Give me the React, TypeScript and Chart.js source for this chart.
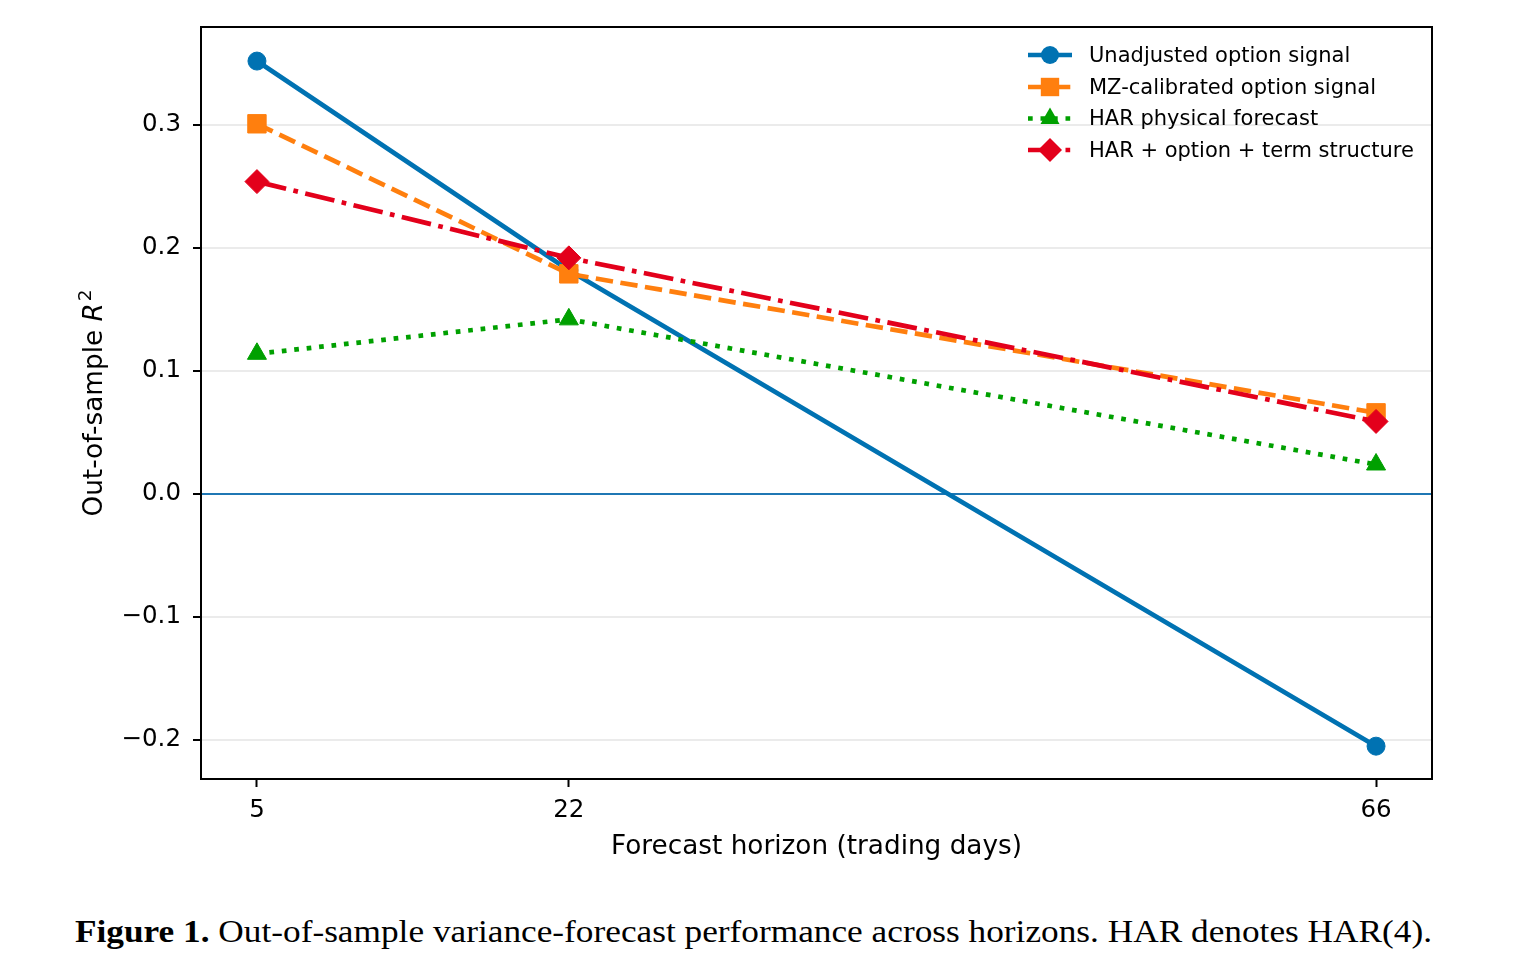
import React, { useRef, useEffect } from "react";
import { Chart, registerables } from "chart.js";

Chart.register(...registerables);

// horizons (trading days) and out-of-sample R^2 per series
const HORIZONS = [5, 22, 66];
const UNADJUSTED = [0.352, 0.182, -0.205];
const MZ_CALIBRATED = [0.301, 0.179, 0.066];
const HAR_PHYSICAL = [0.114, 0.142, 0.024];
const HAR_OPTION_TERM = [0.254, 0.192, 0.059];

const SERIES_LABELS = [
  "Unadjusted option signal",
  "MZ-calibrated option signal",
  "HAR physical forecast",
  "HAR + option + term structure",
];

const X_TICKS = [5, 22, 66];
const Y_TICKS = [-0.2, -0.1, 0.0, 0.1, 0.2, 0.3];

const FONT = "'DejaVu Sans', sans-serif";
const LW = 4.7;

const STYLES = [
  { color: "#0072B2", dash: [] as number[], point: "circle", radius: 9 },
  { color: "#FF7F0E", dash: [17.4, 7.5], point: "rect", radius: 13 },
  { color: "#00A000", dash: [4.7, 7.8], point: "triangle", radius: 11 },
  { color: "#E3001B", dash: [30, 7.5, 4.7, 7.5], point: "rectRot", radius: 12 },
];

const W = 1534;
const H = 880;

function marker(ctx: CanvasRenderingContext2D, kind: string, x: number, y: number, r: number) {
  ctx.beginPath();
  if (kind === "circle") {
    ctx.arc(x, y, r, 0, Math.PI * 2);
  } else if (kind === "rect") {
    const s = Math.SQRT1_2 * r;
    ctx.rect(x - s, y - s, 2 * s, 2 * s);
  } else if (kind === "triangle") {
    const edge = (3 * r) / Math.sqrt(3);
    const h = (edge * Math.sqrt(3)) / 2;
    ctx.moveTo(x - edge / 2, y + h / 3);
    ctx.lineTo(x + edge / 2, y + h / 3);
    ctx.lineTo(x, y - (2 * h) / 3);
    ctx.closePath();
  } else {
    ctx.moveTo(x, y - r);
    ctx.lineTo(x + r, y);
    ctx.lineTo(x, y + r);
    ctx.lineTo(x - r, y);
    ctx.closePath();
  }
  ctx.fill();
}

const decorPlugin = {
  id: "decor",
  beforeDatasetsDraw(chart: any) {
    const { ctx, chartArea } = chart;
    const y0 = chart.scales.y.getPixelForValue(0);
    ctx.save();
    ctx.strokeStyle = "#1f77b4";
    ctx.lineWidth = 2;
    ctx.beginPath();
    ctx.moveTo(chartArea.left, y0);
    ctx.lineTo(chartArea.right, y0);
    ctx.stroke();
    ctx.restore();
  },
  afterDraw(chart: any) {
    const { ctx, chartArea } = chart;
    ctx.save();
    // frame
    ctx.strokeStyle = "#000";
    ctx.lineWidth = 2;
    ctx.strokeRect(chartArea.left, chartArea.top, chartArea.right - chartArea.left, chartArea.bottom - chartArea.top);

    // x title
    ctx.fillStyle = "#000";
    ctx.font = `26.3px ${FONT}`;
    ctx.textAlign = "center";
    ctx.textBaseline = "middle";
    ctx.fillText("Forecast horizon (trading days)", (chartArea.left + chartArea.right) / 2, 847);

    // y title with italic R and superscript 2
    const cy = (chartArea.top + chartArea.bottom) / 2;
    ctx.translate(92, cy);
    ctx.rotate(-Math.PI / 2);
    ctx.textAlign = "left";
    ctx.textBaseline = "alphabetic";
    const a = "Out-of-sample ";
    ctx.font = `26.3px ${FONT}`;
    const wa = ctx.measureText(a).width;
    ctx.font = `italic 26.3px ${FONT}`;
    const wr = ctx.measureText("R").width;
    ctx.font = `18.5px ${FONT}`;
    const ws = ctx.measureText("2").width;
    const total = wa + wr + ws + 2;
    let x = -total / 2;
    const base = 10;
    ctx.font = `26.3px ${FONT}`;
    ctx.fillText(a, x, base);
    x += wa;
    ctx.font = `italic 26.3px ${FONT}`;
    ctx.fillText("R", x, base);
    x += wr + 2;
    ctx.font = `18.5px ${FONT}`;
    ctx.fillText("2", x, base - 11);
    ctx.setTransform(1, 0, 0, 1, 0, 0);
    ctx.restore();

    // legend
    ctx.save();
    const rows = [55, 87, 118.5, 150];
    SERIES_LABELS.forEach((label, i) => {
      const st = STYLES[i];
      const y = rows[i];
      ctx.strokeStyle = st.color;
      ctx.fillStyle = st.color;
      ctx.lineWidth = LW;
      ctx.lineCap = "butt";
      ctx.setLineDash(st.dash);
      ctx.beginPath();
      ctx.moveTo(1028, y);
      ctx.lineTo(1072, y);
      ctx.stroke();
      ctx.setLineDash([]);
      marker(ctx, st.point, 1050, y, st.radius);
      ctx.fillStyle = "#000";
      ctx.font = `21px ${FONT}`;
      ctx.textAlign = "left";
      ctx.textBaseline = "middle";
      ctx.fillText(label, 1089, y + 1.5);
    });
    ctx.restore();
  },
};

const App: React.FC = () => {
  const chartRef = useRef<HTMLCanvasElement | null>(null);

  useEffect(() => {
    if (!chartRef.current) return;
    const ctx = chartRef.current.getContext("2d");
    if (!ctx) return;

    const seriesValues = [UNADJUSTED, MZ_CALIBRATED, HAR_PHYSICAL, HAR_OPTION_TERM];

    const chart = new Chart(ctx, {
      type: "line",
      data: {
        datasets: seriesValues.map((vals, i) => ({
          label: SERIES_LABELS[i],
          data: HORIZONS.map((h, j) => ({ x: h, y: vals[j] })),
          borderColor: STYLES[i].color,
          backgroundColor: STYLES[i].color,
          borderWidth: LW,
          borderDash: STYLES[i].dash,
          borderCapStyle: "butt" as const,
          pointStyle: STYLES[i].point as any,
          pointRadius: STYLES[i].radius,
          pointBackgroundColor: STYLES[i].color,
          pointBorderColor: STYLES[i].color,
          pointBorderWidth: 1,
          tension: 0,
          order: 4 - i,
        })),
      },
      options: {
        responsive: false,
        animation: false,
        devicePixelRatio: 1,
        layout: { padding: { left: 0, top: 27, right: 102, bottom: 0 } },
        plugins: {
          legend: { display: false },
          tooltip: { enabled: false },
        },
        scales: {
          x: {
            type: "linear",
            min: 1.95,
            max: 69.05,
            afterBuildTicks: (scale: any) => {
              scale.ticks = X_TICKS.map((v) => ({ value: v }));
            },
            afterFit: (scale: any) => {
              scale.height = H - 779;
            },
            ticks: {
              color: "#000",
              font: { size: 24.5, family: FONT },
              padding: 9,
              maxRotation: 0,
              callback: (v: any) => String(v),
            },
            grid: {
              drawOnChartArea: false,
              drawTicks: true,
              tickLength: 8,
              tickColor: "#000",
              tickWidth: 2,
            },
            border: { display: true, color: "#000", width: 2 },
          },
          y: {
            type: "linear",
            min: -0.2317,
            max: 0.3797,
            afterBuildTicks: (scale: any) => {
              scale.ticks = Y_TICKS.map((v) => ({ value: v }));
            },
            afterFit: (scale: any) => {
              scale.width = 201;
            },
            ticks: {
              color: "#000",
              font: { size: 24.5, family: FONT },
              padding: 12,
              callback: (v: any) => Number(v).toFixed(1).replace("-", "\u2212"),
            },
            grid: {
              color: "#ebebeb",
              lineWidth: 2,
              drawTicks: true,
              tickLength: 8,
              tickColor: "#000",
              tickWidth: 2,
            },
            border: { display: true, color: "#000", width: 2 },
          },
        },
      },
      plugins: [decorPlugin],
    });

    return () => {
      chart.destroy();
    };
  }, []);

  return (
    <div style={{ position: "absolute", left: 0, top: 0, width: W, height: 976, background: "#fff" }}>
      <canvas
        ref={chartRef}
        width={W}
        height={H}
        style={{ position: "absolute", left: 0, top: 0, width: W, height: H }}
      />
      <div
        style={{
          position: "absolute",
          left: 0,
          top: 916.3,
          width: 1507,
          textAlign: "center",
          fontFamily: "'Liberation Serif', 'Times New Roman', serif",
          fontSize: 31,
          lineHeight: "31px",
          color: "#000",
          whiteSpace: "nowrap",
          transform: "scaleX(1.138)",
          transformOrigin: "753.5px 0",
        }}
      >
        <b>Figure 1.</b> Out-of-sample variance-forecast performance across horizons. HAR denotes HAR(4).
      </div>
    </div>
  );
};

export default App;
